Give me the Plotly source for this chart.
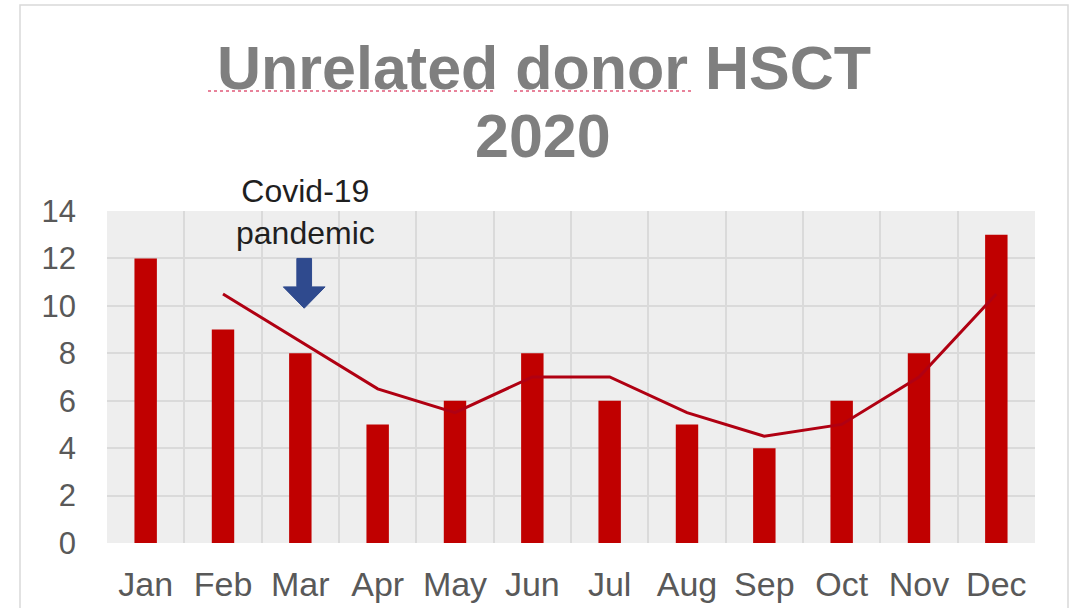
import plotly.graph_objects as go

# Monthly unrelated donor HSCT counts, 2020
months = ["Jan", "Feb", "Mar", "Apr", "May", "Jun", "Jul", "Aug", "Sep", "Oct", "Nov", "Dec"]
transplants = [12, 9, 8, 5, 6, 8, 6, 5, 4, 6, 8, 13]
# two-month moving average trend line (no value for January)
trend = [None, 10.5, 8.5, 6.5, 5.5, 7, 7, 5.5, 4.5, 5, 7, 10.5]

y_ticks = [0, 2, 4, 6, 8, 10, 12, 14]

FONT = "Liberation Sans, Arial, sans-serif"
BAR_RED = "#C00000"
LINE_RED = "#B00012"

fig = go.Figure()

fig.add_trace(go.Scatter(
    x=months, y=trend, mode="lines",
    line=dict(color=LINE_RED, width=3),
    connectgaps=False, hoverinfo="skip", showlegend=False,
))

fig.add_trace(go.Bar(
    x=months, y=transplants,
    marker=dict(color=BAR_RED, line=dict(width=0)),
    width=0.29, showlegend=False,
))

# plot geometry in pixels, used to place decorations in paper units
W, H = 1075, 608
L, R, T, B = 107, 40, 211, 65
pw, ph = W - L - R, H - T - B


def px(x):
    return (x - L) / pw


def py(y):
    return (H - B - y) / ph


shapes = [
    # outer chart frame
    dict(type="rect", xref="paper", yref="paper",
         x0=px(20), x1=px(1068), y0=py(640), y1=py(5),
         line=dict(color="#d9d9d9", width=1.5), fillcolor="rgba(0,0,0,0)", layer="below"),
    # spell-check squiggles under the title words
    dict(type="line", xref="paper", yref="paper",
         x0=px(208), x1=px(493), y0=py(91), y1=py(91),
         line=dict(color="#e8829a", width=2, dash="dot")),
    dict(type="line", xref="paper", yref="paper",
         x0=px(514), x1=px(692), y0=py(91), y1=py(91),
         line=dict(color="#e8829a", width=2, dash="dot")),
    # block arrow pointing at March
    dict(type="path", xref="x", yref="y",
         path=("M 1.955 12.0 L 2.145 12.0 L 2.145 10.8 L 2.32 10.8 "
               "L 2.05 9.9 L 1.78 10.8 L 1.955 10.8 Z"),
         fillcolor="#2F4A8E", line=dict(color="#2F4A8E", width=1)),
]

title_font = dict(family=FONT, size=61, color="#7f7f7f")

fig.update_layout(
    width=W, height=H,
    margin=dict(l=L, r=R, t=T, b=B),
    paper_bgcolor="white",
    plot_bgcolor="#eeeeee",
    font=dict(family=FONT, color="#595959"),
    bargap=0.7,
    shapes=shapes,
    annotations=[
        dict(text="<b>Unrelated donor HSCT</b>",
             xref="paper", yref="paper", x=px(544), y=py(32),
             xanchor="center", yanchor="top", showarrow=False, font=title_font),
        dict(text="<b>2020</b>",
             xref="paper", yref="paper", x=px(543), y=py(100),
             xanchor="center", yanchor="top", showarrow=False, font=title_font),
        dict(text="Covid-19<br>pandemic",
             xref="x", yref="y", x=2.07, y=13.95,
             xanchor="center", yanchor="middle", showarrow=False,
             font=dict(family=FONT, size=32, color="#1f1f1f")),
    ],
)

fig.update_xaxes(
    type="category", tickson="boundaries", automargin=False,
    showgrid=True, gridcolor="#dadada", gridwidth=1.5,
    showline=False, ticks="",
    tickfont=dict(size=34, color="#595959"),
    ticklabelstandoff=18,
)

fig.update_yaxes(
    range=[0, 14], tickvals=y_ticks, automargin=False,
    showgrid=True, gridcolor="#dadada", gridwidth=1.5,
    zeroline=False, showline=False, ticks="",
    tickfont=dict(size=31, color="#595959"),
    ticklabelstandoff=30,
)

fig.write_html("out.html")
